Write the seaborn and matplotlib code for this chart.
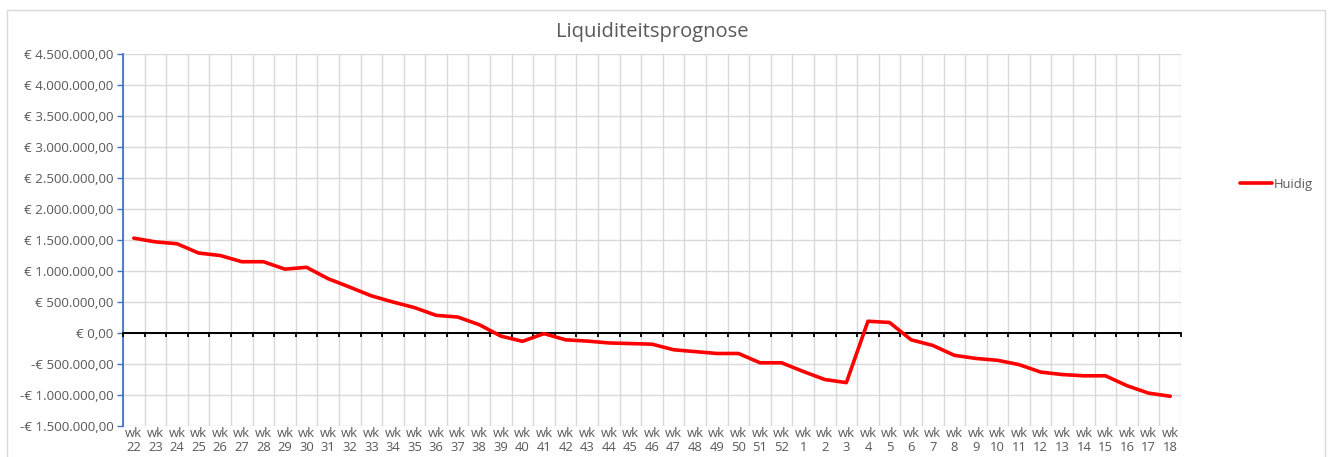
import matplotlib
matplotlib.use("Agg")
import numpy as np
import pandas as pd
import matplotlib.pyplot as plt
import seaborn as sns
from matplotlib.ticker import FuncFormatter, MultipleLocator

# week numbers (wk 22 of year 1 up to wk 18 of year 2)
weeks = list(range(22, 53)) + list(range(1, 19))
labels = [f"wk\n{w}" for w in weeks]

# cash position per week, in euros ("Huidig")
huidig = [
    1530000, 1470000, 1440000, 1290000, 1250000, 1150000, 1150000, 1030000,
    1060000, 876000, 740000, 600000, 500000, 410000, 285000, 258000,
    134000, -50000, -134000, -10000, -110000, -130000, -160000, -170000,
    -180000, -270000, -300000, -330000, -330000, -480000, -480000, -620000,
    -750000, -800000, 190000, 170000, -110000, -200000, -360000, -410000,
    -440000, -510000, -630000, -670000, -690000, -690000, -850000, -970000,
    -1020000,
]

df = pd.DataFrame({"week": labels, "Huidig": huidig})


def euro(v, pos=None):
    s = f"{abs(v):,.2f}".replace(",", "X").replace(".", ",").replace("X", ".")
    return ("-€ " if v < 0 else "€ ") + s


sns.set_theme(style="white")
plt.rcParams["font.family"] = ["Open Sans", "DejaVu Sans"]
txt = "#595959"
grid = "#d9d9d9"

fig = plt.figure(figsize=(13.3, 4.57), dpi=100)
ax = fig.add_axes([0.0925, 0.0678, 0.7955, 0.814])

sns.lineplot(data=df, x="week", y="Huidig", color="#ff0000", lw=2.6,
             label="Huidig", ax=ax, sort=False, zorder=4)

n = len(labels)
ax.set_xlim(-0.5, n - 0.5)
ax.set_ylim(-1500000, 4500000)
ax.yaxis.set_major_locator(MultipleLocator(500000))
ax.yaxis.set_major_formatter(FuncFormatter(euro))
ax.set_xticks(range(n))
ax.set_xticklabels(labels)
ax.set_xticks(np.arange(-0.5, n, 1), minor=True)
ax.tick_params(axis="x", which="major", length=0, labelsize=9.4,
               labelcolor=txt, pad=1)
ax.tick_params(axis="x", which="minor", length=0)
ax.tick_params(axis="y", length=4, width=1, color="#4472c4", direction="out",
               labelsize=9.6, labelcolor=txt, pad=3)
for t in ax.get_xticklabels():
    t.set_linespacing(1.05)
ax.yaxis.set_ticks_position("left")
ax.grid(True, axis="y", color=grid, lw=1)
ax.grid(True, axis="x", which="minor", color=grid, lw=1)
ax.set_axisbelow(True)
for side in ["top", "right", "bottom"]:
    ax.spines[side].set_visible(False)
ax.spines["left"].set_color("#4472c4")
ax.spines["left"].set_linewidth(1.3)
ax.set_xlabel("")
ax.set_ylabel("")

# horizontal axis line at zero with category tick marks
ax.axhline(0, color="black", lw=1.3, zorder=2)
zero = ax.secondary_xaxis(0, transform=ax.transData)
zero.set_xticks(np.arange(-0.5, n, 1))
zero.set_xticklabels([])
zero.tick_params(length=3, width=1.3, color="black", direction="out")
zero.spines["bottom"].set_color("black")
zero.spines["bottom"].set_linewidth(1.3)
zero.set_zorder(3)

ax.set_title("Liquiditeitsprognose", fontsize=14.5, color=txt, pad=12)

leg = ax.legend(loc="center left", bbox_to_anchor=(1.045, 0.65), frameon=False,
                fontsize=9.4, handlelength=2.4, handletextpad=0.15)
for t in leg.get_texts():
    t.set_color(txt)

fig.patches.append(plt.Rectangle((0.005, -0.01), 0.991, 0.988,
                                 transform=fig.transFigure, fill=False,
                                 edgecolor="#d9d9d9", lw=1))

fig.savefig("out.png", dpi=100)
